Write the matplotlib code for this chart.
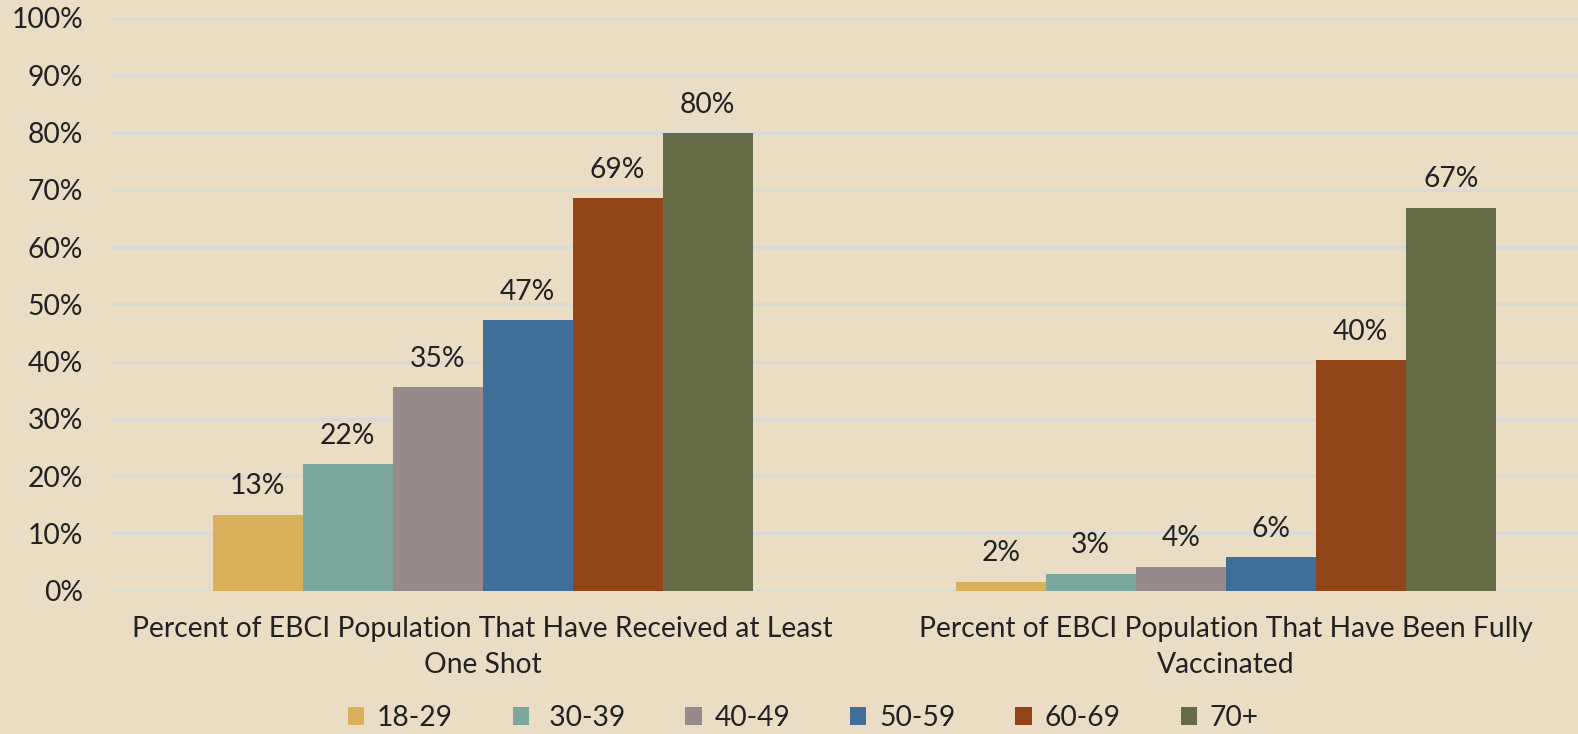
import matplotlib
matplotlib.use('Agg')
import matplotlib.pyplot as plt
import numpy as np

categories = ['Percent of EBCI Population That Have Received at Least\nOne Shot',
              'Percent of EBCI Population That Have Been Fully\nVaccinated']
age_groups = ['18-29', ' 30-39', '40-49', '50-59', '60-69', '70+']
values = [
    [13.3, 1.6],   # 18-29
    [22.1, 3.0],   # 30-39
    [35.6, 4.2],   # 40-49
    [47.2, 5.9],   # 50-59
    [68.5, 40.3],  # 60-69
    [79.9, 66.9],  # 70+
]
labels = [
    ['13%', '2%'],
    ['22%', '3%'],
    ['35%', '4%'],
    ['47%', '6%'],
    ['69%', '40%'],
    ['80%', '67%'],
]
colors = ['#D8B05B', '#7BA79D', '#968B8A', '#3F6E98', '#924519', '#646B46']

bg = '#EBDDC3'
txt = '#222222'
fs = 20.3
plt.rcParams['font.family'] = ['Lato', 'DejaVu Sans']

fig = plt.figure(figsize=(15.78, 7.34), dpi=100, facecolor=bg)
ax = fig.add_axes([0.0703, 0.1952, 0.9297, 0.7803])
ax.set_facecolor(bg)

x = np.arange(len(categories))
w = 0.1211
for k, (grp, vals) in enumerate(zip(age_groups, values)):
    pos = x + (k - 2.5) * w
    bars = ax.bar(pos, vals, width=w, color=colors[k], label=grp, zorder=3)
    for b, lab in zip(bars, labels[k]):
        ax.annotate(lab, (b.get_x() + b.get_width() / 2, b.get_height()),
                    xytext=(0, 11), textcoords='offset points',
                    ha='center', va='bottom', fontsize=fs, color=txt)

ax.set_xlim(-0.5, 1.474)
ax.set_ylim(0, 100)
ax.set_yticks(np.arange(0, 101, 10))
ax.set_yticklabels([f'{v}%' for v in range(0, 101, 10)])
ax.yaxis.grid(True, color='#D9D9D9', linewidth=2.2, zorder=0)
ax.set_axisbelow(True)
for s in ax.spines.values():
    s.set_visible(False)
ax.tick_params(axis='y', length=0, pad=20, labelsize=fs, labelcolor=txt)
ax.set_xticks(x)
ax.set_xticklabels(categories, fontsize=fs, color=txt, linespacing=1.48)
ax.tick_params(axis='x', length=0, pad=18.5)

fig.legend(loc='center', bbox_to_anchor=(0.509, 0.022), ncol=6, frameon=False,
           fontsize=fs, handlelength=0.58, handleheight=0.58, handletextpad=0.45,
           columnspacing=2.13, labelcolor=txt)

fig.savefig('out.png', dpi=100, facecolor=bg)
